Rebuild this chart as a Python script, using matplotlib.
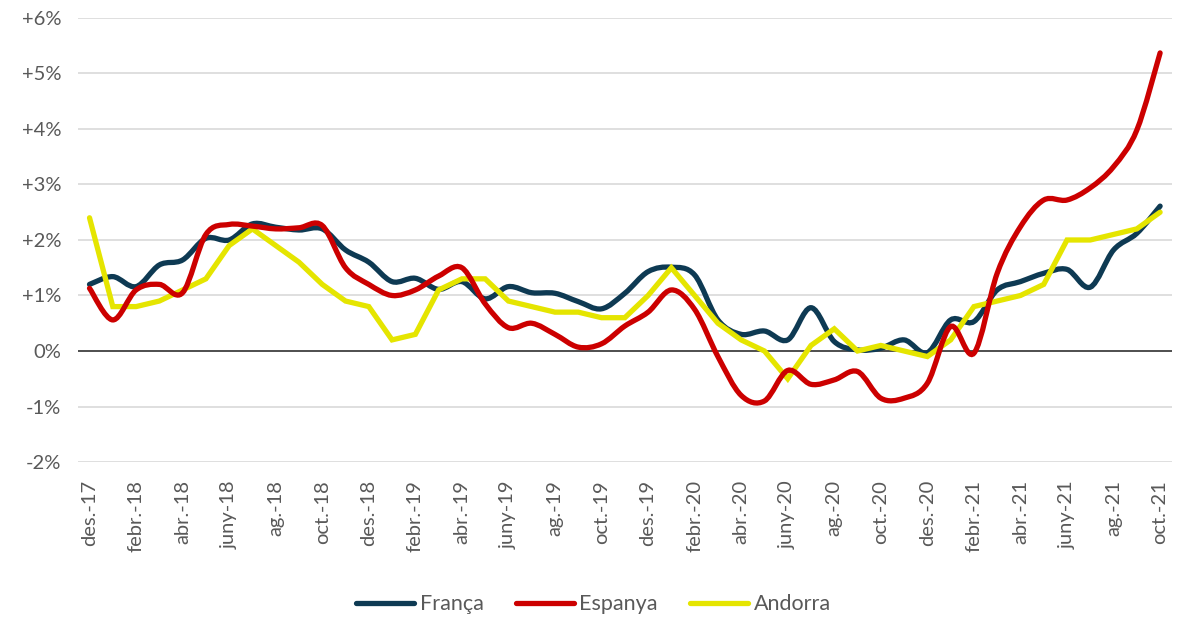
import matplotlib
matplotlib.use("Agg")
import matplotlib.pyplot as plt
import numpy as np
from matplotlib.lines import Line2D
from matplotlib.path import Path
from matplotlib.patches import PathPatch

plt.rcParams["font.family"] = ["Lato", "DejaVu Sans"]

# monthly data, des.-17 .. oct.-21
tick_labels = ["des.-17", "febr.-18", "abr.-18", "juny-18", "ag.-18", "oct.-18",
               "des.-18", "febr.-19", "abr.-19", "juny-19", "ag.-19", "oct.-19",
               "des.-19", "febr.-20", "abr.-20", "juny-20", "ag.-20", "oct.-20",
               "des.-20", "febr.-21", "abr.-21", "juny-21", "ag.-21", "oct.-21"]

franca = [1.2, 1.34, 1.16, 1.55, 1.64, 2.03, 2.0, 2.29, 2.23, 2.18, 2.2, 1.82,
          1.6, 1.25, 1.31, 1.11, 1.25, 0.94, 1.16, 1.05, 1.04, 0.89, 0.76, 1.04,
          1.43, 1.51, 1.37, 0.56, 0.3, 0.36, 0.2, 0.78, 0.17, 0.02, 0.05, 0.2,
          -0.03, 0.56, 0.53, 1.1, 1.25, 1.4, 1.47, 1.15, 1.82, 2.12, 2.61]

espanya = [1.13, 0.56, 1.1, 1.2, 1.05, 2.1, 2.28, 2.25, 2.2, 2.22, 2.26, 1.5,
           1.2, 1.0, 1.1, 1.35, 1.5, 0.85, 0.42, 0.5, 0.3, 0.07, 0.13, 0.45,
           0.7, 1.1, 0.75, -0.1, -0.8, -0.9, -0.35, -0.6, -0.52, -0.37, -0.85, -0.85,
           -0.58, 0.44, -0.04, 1.4, 2.24, 2.72, 2.72, 2.94, 3.32, 3.98, 5.37]

andorra = [2.4, 0.8, 0.8, 0.9, 1.1, 1.3, 1.9, 2.2, 1.9, 1.6, 1.2, 0.9,
           0.8, 0.2, 0.3, 1.1, 1.3, 1.3, 0.9, 0.8, 0.7, 0.7, 0.6, 0.6,
           1.0, 1.5, 1.0, 0.5, 0.2, 0.0, -0.5, 0.1, 0.4, 0.0, 0.1, 0.0,
           -0.1, 0.2, 0.8, 0.9, 1.0, 1.2, 2.0, 2.0, 2.1, 2.2, 2.5]

C_FR = "#0E3A53"
C_ES = "#CC0000"
C_AD = "#E5E500"
TXT = "#595959"
LW = 3.8


def smooth_path(xs, ys):
    """Excel-style smoothed line as cubic Bezier segments."""
    pts = np.column_stack([xs, ys])
    n = len(pts)
    verts = [pts[0]]
    codes = [Path.MOVETO]
    for i in range(n - 1):
        p0 = pts[max(i - 1, 0)]
        p1 = pts[i]
        p2 = pts[i + 1]
        p3 = pts[min(i + 2, n - 1)]
        c1 = p1 + (p2 - p0) / 6.0
        c2 = p2 - (p3 - p1) / 6.0
        verts += [c1, c2, p2]
        codes += [Path.CURVE4] * 3
    return Path(verts, codes)


fig = plt.figure(figsize=(11.8, 6.19), dpi=100)
ax = fig.add_axes([0.066, 0.2536, 0.927, 0.7174])

x = np.arange(len(franca))

for yv in range(-2, 7):
    if yv == 0:
        continue
    ax.axhline(yv, color="#D9D9D9", linewidth=1.2, zorder=0)
ax.axhline(0, color="#404040", linewidth=1.3, zorder=1)

ax.plot(x, andorra, color=C_AD, linewidth=LW, solid_capstyle="round",
        solid_joinstyle="miter", zorder=2)
ax.add_patch(PathPatch(smooth_path(x, espanya), fill=False, edgecolor=C_ES,
                       linewidth=LW, capstyle="round", zorder=3))
ax.add_patch(PathPatch(smooth_path(x, franca), fill=False, edgecolor=C_FR,
                       linewidth=LW, capstyle="round", zorder=1.5))

ax.set_xlim(-0.5, 46.5)
ax.set_ylim(-2, 6)
ax.set_yticks(range(-2, 7))
ax.set_yticklabels([f"{v:+d}%" if v != 0 else "0%" for v in range(-2, 7)])
ax.set_xticks(x[::2])
ax.set_xticklabels(tick_labels, rotation=90)
ax.tick_params(length=0, labelsize=14.5, colors=TXT)
ax.tick_params(axis="y", pad=12)
ax.tick_params(axis="x", pad=13)
for s in ax.spines.values():
    s.set_visible(False)

handles = [Line2D([], [], color=C_FR, linewidth=LW, solid_capstyle="round"),
           Line2D([], [], color=C_ES, linewidth=LW, solid_capstyle="round"),
           Line2D([], [], color=C_AD, linewidth=LW, solid_capstyle="round")]
leg = fig.legend(handles, ["França", "Espanya", "Andorra"], loc="center",
                 bbox_to_anchor=(0.503, 0.024), ncol=3, frameon=False,
                 fontsize=15.5, handlelength=2.7, handletextpad=0.25,
                 columnspacing=1.5, labelcolor=TXT)

fig.savefig("out.png", dpi=100)
